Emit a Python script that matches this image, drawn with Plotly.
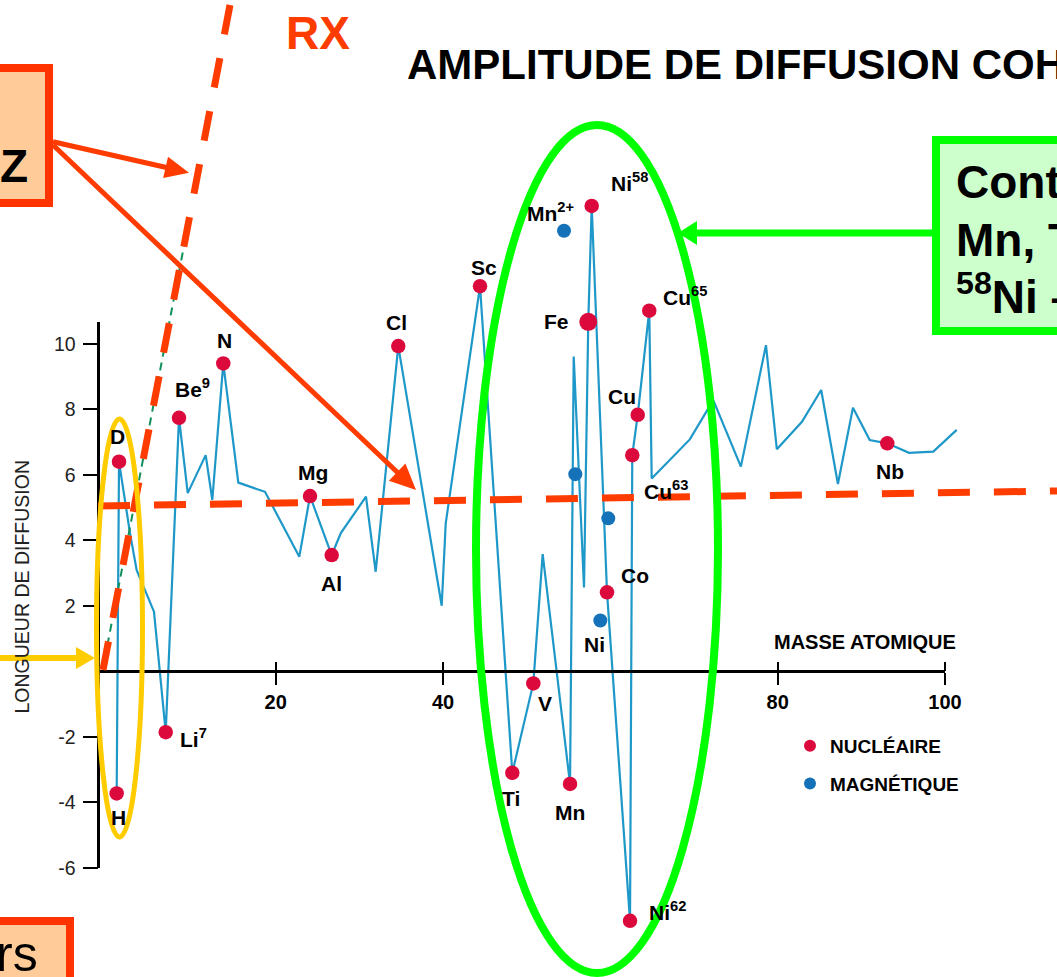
import plotly.graph_objects as go

W, H = 1057, 977
FONT = "Liberation Sans, Arial, sans-serif"

# ---------------- data ----------------
# blue connecting line: atomic mass vs coherent scattering length
path_mass = [0.99, 1.27, 2.58, 3.38, 5.45, 6.85, 8.44, 9.48, 11.63, 12.42, 13.73, 15.53,
             18.72, 22.82, 24.10, 26.69, 27.80, 30.79, 31.95, 34.65, 39.84, 40.32, 44.42,
             48.28, 50.79, 51.91, 55.18, 55.62, 56.85, 57.36, 57.77, 59.60, 62.35, 62.62,
             63.27, 64.65, 64.94, 69.5, 72.3, 75.6, 78.6, 79.9, 82.9, 85.2, 87.2, 89.0,
             91.0, 93.1, 95.7, 98.6, 101.4]
path_b = [-3.73, 6.40, 4.22, 3.09, 1.82, -1.86, 7.74, 5.44, 6.60, 5.23, 9.40, 5.76,
          5.48, 3.50, 5.35, 3.55, 4.23, 5.33, 3.04, 9.93, 2.00, 4.52, 11.76,
          -3.10, -0.37, 3.58, -3.44, 9.61, 2.56, 10.67, 14.21, 2.41, -7.62, 6.60,
          7.83, 11.01, 5.89, 7.08, 8.28, 6.25, 9.96, 6.78, 7.62, 8.59, 5.72, 8.05,
          7.06, 6.96, 6.67, 6.71, 7.37]

# nuclear scattering points
nuc_names = ["H", "D", "Li7", "Be9", "N", "Mg", "Al", "Cl", "Sc", "Ti", "V", "Mn",
             "Fe", "Ni58", "Co", "Ni62", "Cu63", "Cu", "Cu65", "Nb"]
nuc_mass = [0.99, 1.27, 6.85, 8.44, 13.73, 24.10, 26.69, 34.65, 44.42, 48.28, 50.79, 55.18,
            57.36, 57.77, 59.60, 62.35, 62.62, 63.27, 64.65, 93.1]
nuc_b = [-3.73, 6.40, -1.86, 7.74, 9.40, 5.35, 3.55, 9.93, 11.76, -3.10, -0.37, -3.44,
         10.67, 14.21, 2.41, -7.62, 6.60, 7.83, 11.01, 6.96]

# magnetic scattering points
mag_names = ["Mn2+", "Fe_m", "Co_m", "Ni"]
mag_mass = [54.46, 55.81, 59.75, 58.80]
mag_b = [13.45, 6.02, 4.67, 1.55]

# point labels: text, anchor, x shift, y shift (px)
labels = {
    "H": ("H", "center", 2, -24), "D": ("D", "center", -2, 25),
    "Li7": ("Li<sup>7</sup>", "left", 12, -6), "Be9": ("Be<sup>9</sup>", "left", -6, 30),
    "N": ("N", "center", 1, 23), "Mg": ("Mg", "center", 3, 24), "Al": ("Al", "center", 0, -28),
    "Cl": ("Cl", "center", -2, 24), "Sc": ("Sc", "center", 4, 19), "Ti": ("Ti", "center", -1, -26),
    "V": ("V", "center", 12, -20), "Mn": ("Mn", "center", 0, -29),
    "Fe": ("Fe", "right", -17, 0), "Ni58": ("Ni<sup>58</sup>", "left", 17, 24),
    "Co": ("Co", "center", 28, 17), "Ni62": ("Ni<sup>62</sup>", "left", 17, 10),
    "Cu63": ("Cu<sup>63</sup>", "left", 10, -35), "Cu": ("Cu", "center", -16, 18),
    "Cu65": ("Cu<sup>65</sup>", "left", 12, 15), "Nb": ("Nb", "center", 3, -28),
    "Mn2+": ("Mn<sup>2+</sup>", "left", -39, 19), "Ni": ("Ni", "center", -6, -24),
}

x_ticks = [20, 40, 80, 100]
y_ticks = [-6, -4, -2, 2, 4, 6, 8, 10]

# ---------------- pixel mapping ----------------
X0, SX = 108.4, 8.366      # px of mass 0, px per unit
Y0, SY = 671.3, 32.75      # px of b=0, px per unit


def px(x):
    return x / W


def py(y):
    return 1 - y / H


xr = [(0 - X0) / SX, (W - X0) / SX]
yr = [(Y0 - H) / SY, Y0 / SY]

RED = "#DC0A3C"
BLUE = "#1672B8"
LINE = "#1E98C8"
ORANGE = "#FF3C00"

fig = go.Figure()
fig.add_trace(go.Scatter(x=path_mass, y=path_b, mode="lines",
                         line=dict(color=LINE, width=2.2), showlegend=False, hoverinfo="skip"))
sizes = [18 if n == "Fe" else 14.5 for n in nuc_names]
fig.add_trace(go.Scatter(x=nuc_mass, y=nuc_b, mode="markers", name="NUCLÉAIRE",
                         marker=dict(color=RED, size=sizes, opacity=1, line=dict(width=0)),
                         legendgroup="a"))
fig.add_trace(go.Scatter(x=mag_mass, y=mag_b, mode="markers", name="MAGNÉTIQUE",
                         marker=dict(color=BLUE, size=14, opacity=1, line=dict(width=0)),
                         legendgroup="b"))
# invisible traces to instantiate the visible axes
fig.add_trace(go.Scatter(x=[50], y=[0], xaxis="x2", yaxis="y2", mode="markers",
                         marker=dict(opacity=0), showlegend=False, hoverinfo="skip"))
fig.add_trace(go.Scatter(x=[50], y=[0], xaxis="x3", yaxis="y2", mode="markers",
                         marker=dict(opacity=0), showlegend=False, hoverinfo="skip"))

ax_x_left = -1.2
ax_y_top = (Y0 - 321.7) / SY
ax_y_bot = -6

annotations = []
# point labels
for names, xs, ys in ((nuc_names, nuc_mass, nuc_b), (mag_names, mag_mass, mag_b)):
    for n, x, y in zip(names, xs, ys):
        if n not in labels:
            continue
        t, anc, dx, dy = labels[n]
        annotations.append(dict(x=x, y=y, xref="x", yref="y", text=t, showarrow=False,
                                xanchor=anc, yanchor="middle", xshift=dx, yshift=dy,
                                font=dict(family=FONT, size=21, color="black", weight="bold")))

# texts
texts = [
    dict(x=px(865), y=py(642), text="MASSE ATOMIQUE", xanchor="center", yanchor="middle",
         font=dict(family=FONT, size=20, weight="bold", color="black")),
    dict(x=px(21.5), y=py(587), text="LONGUEUR DE DIFFUSION", textangle=-90,
         xanchor="center", yanchor="middle", font=dict(family=FONT, size=19.5, color="#222")),
    dict(x=px(405), y=py(65), text="AMPLITUDE DE DIFFUSION COHÉRENTE", xanchor="left",
         yanchor="middle", font=dict(family=FONT, size=42, weight="bold", color="black")),
    dict(x=px(318), y=py(33), text="RX", xanchor="center", yanchor="middle",
         font=dict(family=FONT, size=46, weight="bold", color=ORANGE)),
    dict(x=px(30), y=py(166), text="Z", xanchor="right", yanchor="middle",
         font=dict(family=FONT, size=46, weight="bold", color="black")),
    dict(x=px(40), y=py(954), text="rs", xanchor="right", yanchor="middle",
         font=dict(family=FONT, size=50, color="black")),
    dict(x=px(954), y=py(182), text="Contraste", xanchor="left", yanchor="middle",
         font=dict(family=FONT, size=46, weight="bold", color="black")),
    dict(x=px(954), y=py(240), text="Mn, Ti, V", xanchor="left", yanchor="middle",
         font=dict(family=FONT, size=46, weight="bold", color="black")),
    dict(x=px(954), y=py(294), text="<sup>58</sup>Ni – <sup>62</sup>Ni", xanchor="left",
         yanchor="middle", font=dict(family=FONT, size=46, weight="bold", color="black")),
]
for a in texts:
    a.update(xref="paper", yref="paper", showarrow=False)
annotations += texts


def line_shape(p0, p1, color, width, dash="solid"):
    return dict(type="line", xref="paper", yref="paper", x0=px(p0[0]), y0=py(p0[1]),
                x1=px(p1[0]), y1=py(p1[1]), line=dict(color=color, width=width, dash=dash),
                layer="above")


def arrow(tip, tail, color, width, head_len, head_half):
    dx, dy = tip[0] - tail[0], tip[1] - tail[1]
    n = (dx * dx + dy * dy) ** 0.5
    ux, uy = dx / n, dy / n
    bx, by = tip[0] - ux * head_len, tip[1] - uy * head_len
    p1 = (bx - uy * head_half, by + ux * head_half)
    p2 = (bx + uy * head_half, by - ux * head_half)
    path = "M {},{} L {},{} L {},{} Z".format(px(tip[0]), py(tip[1]), px(p1[0]), py(p1[1]),
                                             px(p2[0]), py(p2[1]))
    return [line_shape(tail, (bx + ux * 2, by + uy * 2), color, width),
            dict(type="path", xref="paper", yref="paper", path=path, fillcolor=color,
                 line=dict(width=0), layer="above")]


def ell(cx, cy, rx, ry, color, width):
    return dict(type="circle", xref="paper", yref="paper", x0=px(cx - rx), x1=px(cx + rx),
                y0=py(cy + ry), y1=py(cy - ry), line=dict(color=color, width=width),
                fillcolor="rgba(0,0,0,0)", layer="above")


def rect(x0, y0, x1, y1, fill, color, width):
    return dict(type="rect", xref="paper", yref="paper", x0=px(x0), x1=px(x1),
                y0=py(y1), y1=py(y0), fillcolor=fill, line=dict(color=color, width=width),
                layer="above")


shapes = [
    line_shape((188, 225), (103, 668), "#10905A", 2, "8px,6px"),
    line_shape((230, 5), (103, 670), ORANGE, 7, "30px,24px"),
    line_shape((98, 506), (1057, 491), ORANGE, 7, "32px,24px"),
    ell(597, 549, 121, 424, "#00FF00", 8),
    ell(119.5, 628, 23, 209, "#FFCC00", 5),
    rect(-6, 68, 49, 203, "#FFCC99", "#FF3300", 8),
    rect(-6, 921, 70, 983, "#FFCC99", "#FF3300", 8),
    rect(936, 140, 1063, 331, "#CCFFCC", "#00FF00", 8),
]
shapes += arrow((95, 658), (0, 658), "#FFCC00", 6, 19, 11)
shapes += arrow((678, 233), (934, 233), "#00FF00", 7, 19, 12)
shapes += arrow((189, 172.7), (53, 141.7), ORANGE, 5, 24, 11)
shapes += arrow((416, 490), (53, 145), ORANGE, 5, 26, 12)

fig.update_layout(
    width=W, height=H, margin=dict(l=0, r=0, t=0, b=0, pad=0, autoexpand=False),
    paper_bgcolor="white", plot_bgcolor="rgba(0,0,0,0)",
    xaxis=dict(domain=[0, 1], range=xr, visible=False, fixedrange=True, automargin=False),
    yaxis=dict(domain=[0, 1], range=yr, visible=False, fixedrange=True, automargin=False),
    xaxis2=dict(domain=[px(X0 + SX * ax_x_left), px(X0 + SX * 100)], range=[ax_x_left, 100],
                anchor="free", position=py(Y0), showline=True, linecolor="black", linewidth=2.5,
                ticks="outside", ticklen=12, tickwidth=2, tickcolor="black",
                tickvals=x_ticks, ticktext=[str(v) for v in x_ticks], showgrid=False,
                zeroline=False, automargin=False,
                tickfont=dict(family=FONT, size=20, weight="bold", color="black")),
    xaxis3=dict(domain=[px(X0 + SX * ax_x_left), px(X0 + SX * 100)], range=[ax_x_left, 100],
                anchor="free", position=py(Y0), overlaying="x2", side="top", showline=False,
                ticks="outside", ticklen=9, tickwidth=2, tickcolor="black", tickvals=x_ticks,
                showticklabels=False, showgrid=False, zeroline=False, automargin=False),
    yaxis2=dict(domain=[py(Y0 - SY * ax_y_bot), py(Y0 - SY * ax_y_top)], range=[ax_y_bot, ax_y_top],
                anchor="free", position=px(X0 + SX * ax_x_left), showline=True, linecolor="black",
                linewidth=2.5, ticks="outside", ticklen=15, tickwidth=2, tickcolor="black",
                tickvals=y_ticks, ticktext=[str(v) for v in y_ticks], showgrid=False, zeroline=False,
                automargin=False, tickfont=dict(family=FONT, size=19.5, color="#222"),
                ticklabelstandoff=3),
    legend=dict(x=px(790), y=py(727), xanchor="left", yanchor="top",
                font=dict(family=FONT, size=19, weight="bold", color="black"),
                bgcolor="rgba(0,0,0,0)", tracegroupgap=10, itemsizing="constant"),
    annotations=annotations, shapes=shapes, hovermode=False,
)

fig.write_html("out.html")
